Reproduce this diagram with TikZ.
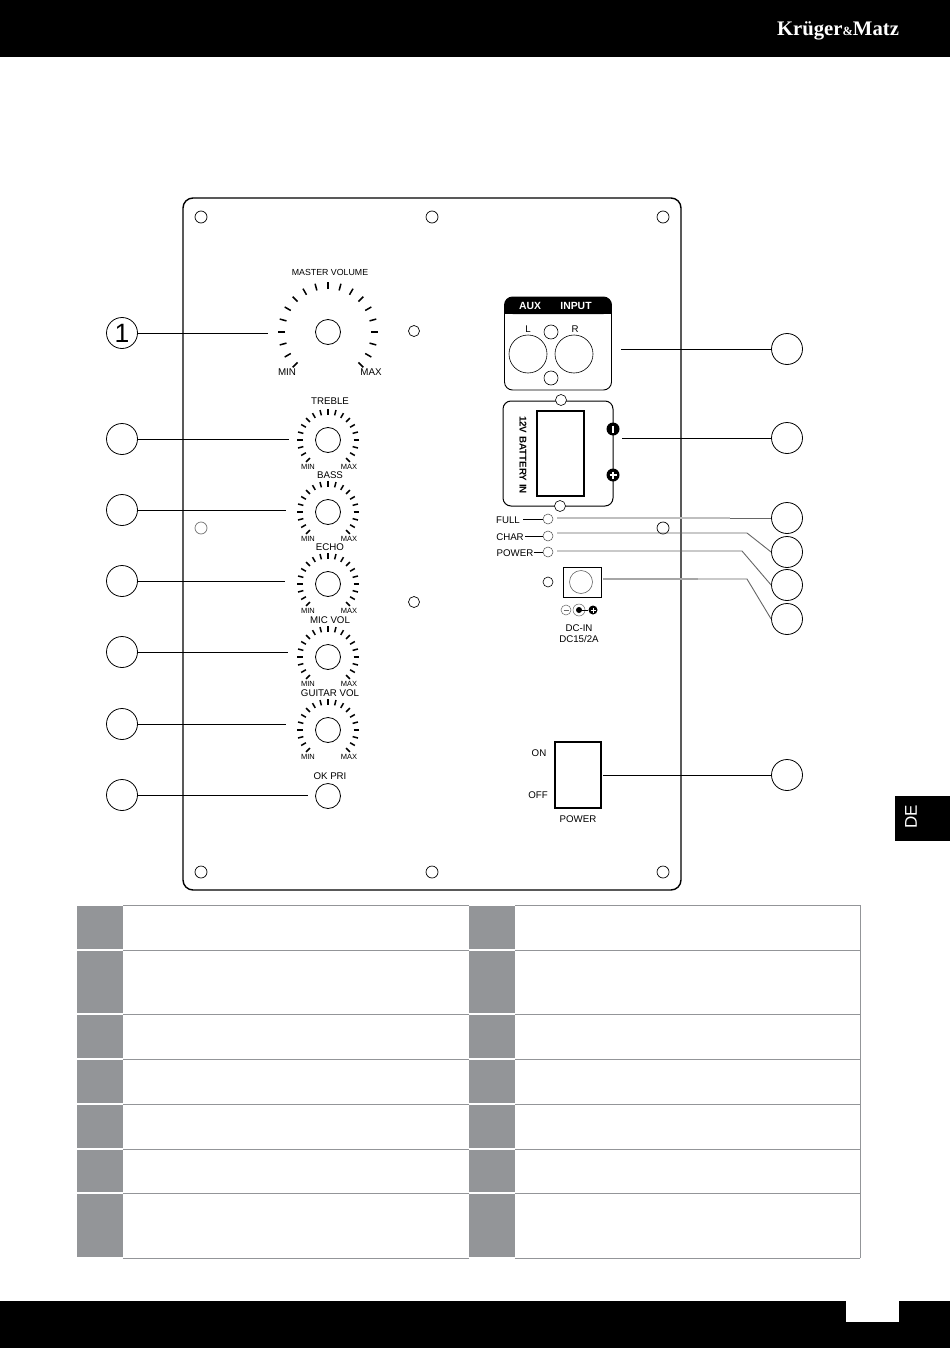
\documentclass[tikz,border=0pt]{standalone}
\usepackage{fontspec}
\setmainfont{Liberation Sans}
\newfontfamily\logofont{Liberation Serif}
\tikzset{
  call/.style={circle, draw, fill=white, inner sep=0pt, minimum size=31pt, line width=.8pt},
  wire/.style={line width=1pt},
  thinwire/.style={line width=.9pt, draw=black!60},
  hole/.style={circle, draw, inner sep=0pt, minimum size=12pt, line width=.7pt, fill=white},
  knob/.style={circle, draw, inner sep=0pt, minimum size=25pt, line width=.8pt},
  paneltext/.style={inner sep=0pt, font=\fontsize{9.7}{11}\selectfont},
  tinytext/.style={inner sep=0pt, font=\fontsize{7.5}{9}\selectfont},
  tick/.style={line width=1.5pt},
}
\definecolor{cellgrey}{HTML}{939598}

\begin{document}
\begin{tikzpicture}[x=1pt, y=-1pt]

  \newcommand\SmallKnob[4]{
    \node[knob] (#1) at (#2) {};
    \foreach \a in {-225,-210,...,45}
      \draw[tick] ([shift={(\a:25.5)}]#1.center) -- ([shift={(\a:31)}]#1.center);
    \node[tinytext] (#1min) at ([shift={(-20,27)}]#1.center) {MIN};
    \node[tinytext] (#1max) at ([shift={(21,27)}]#1.center) {MAX};
    \node[paneltext] (#1name) at (330,#4) {#3};
  }

  \path[fill=white, use as bounding box] (0,0) rectangle (950,1348);

  %% bands
  \fill (0,0) rectangle (950,57);
  \fill (0,1301) rectangle (950,1348);
  \fill[white] (846,1301) rectangle (899,1322);
  \fill (895,796) rectangle (950,841);
  \node[text=white, font=\logofont\bfseries\fontsize{20.7}{22}\selectfont, inner sep=0pt] (logo) at (838,31) {Krüger{\fontsize{12.5}{12}\selectfont\&}Matz};
  \node[text=white, rotate=90, inner sep=0pt, font=\fontsize{17}{20}\selectfont] (lang) at (911,817) {DE};

  %% panel
  \draw[line width=1.4pt, rounded corners=10pt] (183,198) rectangle (681,890);
  \foreach \n/\p in {ha/{201,217}, hb/{432,217}, hc/{663,217}, hd/{663,528}, he/{201,872}, hf/{432,872}, hg/{663,872}}
    \node[hole] (\n) at (\p) {};
  \node[hole, draw=black!55] (hh) at (201,528) {};
  \node[hole, minimum size=11pt] (hi) at (414,331) {};
  \node[hole, minimum size=11pt] (hj) at (414,602) {};

  %% master volume
  \node[knob] (master) at (328,332) {};
  \foreach \a in {-225,-210,...,45}
    \draw[tick] ([shift={(\a:43)}]master.center) -- ([shift={(\a:50)}]master.center);
  \node[paneltext, font=\fontsize{8.8}{10}\selectfont] (mastername) at (330,272) {MASTER VOLUME};
  \node[paneltext, font=\fontsize{9.8}{11}\selectfont] (mastermin) at (287,372.5) {MIN};
  \node[paneltext, font=\fontsize{9.8}{11}\selectfont] (mastermax) at (371,372.5) {MAX};

  %% small knobs
  \SmallKnob{treble}{328,440}{TREBLE}{401}
  \SmallKnob{bass}{328,512}{BASS}{475}
  \SmallKnob{echo}{328,584}{ECHO}{547.5}
  \SmallKnob{micvol}{328,657}{MIC VOL}{620}
  \SmallKnob{guitar}{328,730}{GUITAR VOL}{693}
  \node[knob] (okpri) at (328,796) {};
  \node[paneltext] (okname) at (330,776.5) {OK PRI};

  %% aux input
  \draw[line width=.9pt, rounded corners=8pt] (504.5,297) rectangle (611.5,390);
  \fill[rounded corners=8pt] (504.5,297) -- (611.5,297) -- (611.5,314) -- (504.5,314) -- cycle;
  \fill (504.5,306) rectangle (611.5,314);
  \node[paneltext, text=white, font=\bfseries\fontsize{10.4}{12}\selectfont] (auxname) at (530,306) {AUX};
  \node[paneltext, text=white, font=\bfseries\fontsize{10.4}{12}\selectfont] (inputname) at (576,306) {INPUT};
  \node[paneltext] (ltext) at (528,329) {L};
  \node[paneltext] (rtext) at (575,329) {R};
  \node[hole, minimum size=38pt, line width=.6pt] (jackl) at (528,354) {};
  \node[hole, minimum size=38pt, line width=.6pt] (jackr) at (574,354) {};
  \node[hole, minimum size=14pt, line width=.6pt] (auxa) at (551,332) {};
  \node[hole, minimum size=14pt, line width=.6pt] (auxb) at (551,378) {};

  %% battery
  \draw[line width=1pt, rounded corners=8pt] (503,401) rectangle (613,506);
  \draw[line width=1.5pt] (537,411) rectangle (584,496);
  \node[paneltext, rotate=-90, font=\bfseries\fontsize{9.8}{11}\selectfont] (battext) at (523,455) {12V BATTERY IN};
  \node[hole, minimum size=11pt, line width=.6pt] (bata) at (561,400) {};
  \node[hole, minimum size=11pt, line width=.6pt] (batb) at (560,506) {};
  \node[circle, fill, inner sep=0pt, minimum size=13pt] (batminus) at (613,429) {};
  \node[circle, fill, inner sep=0pt, minimum size=13pt] (batplus) at (613,475) {};
  \draw[white, line width=1.2pt] (batminus.center) +(0,-3.5) -- +(0,3.5);
  \draw[white, line width=1.2pt] (batplus.center) +(0,-3.5) -- +(0,3.5) +(-3.5,0) -- +(3.5,0);

  %% leds
  \node[paneltext] (fulltext) at (508,520) {FULL};
  \node[paneltext] (chartext) at (510,537) {CHAR};
  \node[paneltext] (powertext) at (515,553) {POWER};
  \node[hole, minimum size=10pt, line width=.5pt, draw=black!70] (ledf) at (548,519) {};
  \node[hole, minimum size=10pt, line width=.5pt, draw=black!70] (ledc) at (548,536) {};
  \node[hole, minimum size=10pt, line width=.5pt, draw=black!70] (ledp) at (548,552) {};
  \node[hole, minimum size=10pt, line width=.6pt] (dchole) at (548,582) {};
  \draw[line width=.7pt] (523,519) -- (ledf);
  \draw[line width=.7pt] (525,536) -- (ledc);
  \draw[line width=.7pt] (533.5,552) -- (ledp);

  %% dc in
  \draw[line width=.9pt] (563,567) rectangle (601,597);
  \node[circle, draw=black!60, line width=.6pt, inner sep=0pt, minimum size=23pt] (dcjack) at (581,582) {};
  \node[circle, draw=black!60, line width=.5pt, inner sep=0pt, minimum size=10pt] (dcminus) at (566,610) {};
  \node[circle, draw=black!60, line width=.5pt, inner sep=0pt, minimum size=12pt] (dcmid) at (579,610) {};
  \fill (dcmid.center) circle (3pt);
  \node[circle, fill, inner sep=0pt, minimum size=9pt] (dcplus) at (593,610) {};
  \draw[line width=.8pt] (dcmid.center) -- (dcplus);
  \draw[black!60, line width=.8pt] (dcminus.center) +(-2.5,0) -- +(2.5,0);
  \draw[white, line width=.9pt] (dcplus.center) +(0,-2.5) -- +(0,2.5) +(-2.5,0) -- +(2.5,0);
  \node[paneltext] (dctexta) at (579,628) {DC-IN};
  \node[paneltext] (dctextb) at (579,639) {DC15/2A};

  %% power switch
  \draw[line width=1.4pt] (555,742) rectangle (601,808);
  \node[paneltext] (ontext) at (539,753) {ON};
  \node[paneltext] (offtext) at (538,795) {OFF};
  \node[paneltext] (swname) at (578,819) {POWER};

  %% callouts left
  \node[call, font=\fontsize{26.5}{28}\selectfont] (calla) at (122,333) {1};
  \foreach \n/\y in {callb/439, callc/510, calld/581, calle/652, callf/724, callg/795}
    \node[call] (\n) at (122,\y) {};

  %% callouts right
  \foreach \n/\y in {callh/349, calli/438, callj/518, callk/552, calll/585, callm/619, calln/775}
    \node[call] (\n) at (787,\y) {};

  %% free ends
  \coordinate (tipa) at (268,333);
  \coordinate (tipb) at (289,439);
  \coordinate (tipc) at (286,510);
  \coordinate (tipd) at (285,581);
  \coordinate (tipe) at (288,652);
  \coordinate (tipf) at (286,724);
  \coordinate (tipg) at (308,795);
  \coordinate (tiph) at (621,349);
  \coordinate (tipi) at (622,438);
  \coordinate (tipj) at (557,518);
  \coordinate (tipk) at (557,533);
  \coordinate (tipl) at (557,551);
  \coordinate (tipm) at (603,579);
  \coordinate (tipn) at (603,775);
  \coordinate (midj) at (730,518);
  \coordinate (bendk) at (747,533);
  \coordinate (bendl) at (742,551);
  \coordinate (midm) at (698,579);
  \coordinate (bendm) at (747,579);

  \foreach \n/\t in {calla/tipa, callb/tipb, callc/tipc, calld/tipd, calle/tipe, callf/tipf, callg/tipg, callh/tiph, calli/tipi, calln/tipn}
    \draw[wire] (\n) -- (\t);

  \draw[line width=1.2pt, black!25] (tipj) -- (midj);
  \draw[thinwire] (midj) -- (callj);
  \draw[thinwire] (tipk) -- (bendk) -- (callk.west);
  \draw[thinwire] (tipl) -- (bendl) -- (calll.west);
  \draw[line width=1.1pt, black!35] (tipm) -- (midm);
  \draw[thinwire] (midm) -- (bendm) -- (callm.west);

  %% table
  \foreach \ya/\yb in {905/950, 950/1014, 1014/1059, 1059/1104, 1104/1149, 1149/1193, 1193/1258} {
    \fill[cellgrey] (77,\ya+.7) rectangle (123,\yb-.7);
    \fill[cellgrey] (469,\ya+.7) rectangle (515,\yb-.7);
    \draw[cellgrey, line width=1pt] (123,\yb) -- (469,\yb) (515,\yb) -- (860,\yb);
  }
  \draw[cellgrey, line width=1pt] (123,905) -- (469,905) (515,905) -- (860,905) (860,905) -- (860,1258);

\end{tikzpicture}
\end{document}
